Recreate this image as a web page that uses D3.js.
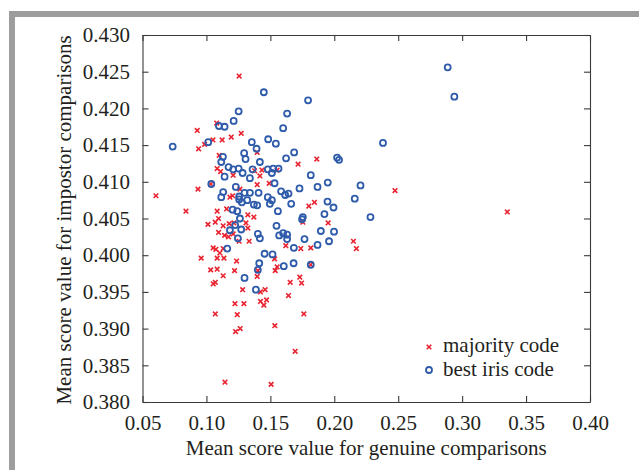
<!DOCTYPE html>
<html>
<head>
<meta charset="utf-8">
<script src="https://cdn.jsdelivr.net/npm/d3@7"></script>
<style>
  body { margin: 0; background: #fff; }
  svg text { font-family: "Liberation Serif", "Times New Roman", serif; fill: #231f20; }
</style>
</head>
<body>
<div id="chart"></div>
<script>
// tick values
var xTicks = [0.05, 0.10, 0.15, 0.20, 0.25, 0.30, 0.35, 0.40];
var yTicks = [0.380, 0.385, 0.390, 0.395, 0.400, 0.405, 0.410, 0.415, 0.420, 0.425, 0.430];

var legendLabels = ["majority code", "best iris code"];

// [mean genuine score, mean impostor score]
var majorityCode = [
  [0.1256,0.4244],[0.1080,0.4180],[0.0928,0.4170],[0.1272,0.4166],[0.1194,0.4161],
  [0.1123,0.4157],[0.1051,0.4157],[0.0986,0.4151],[0.0939,0.4145],[0.1397,0.4140],
  [0.1100,0.4136],[0.1084,0.4118],[0.1111,0.4114],[0.1377,0.4115],[0.1434,0.4116],
  [0.1553,0.4116],[0.1209,0.4109],[0.1418,0.4108],[0.0934,0.4090],[0.0840,0.4060],
  [0.1184,0.4079],[0.1205,0.4081],[0.1262,0.4090],[0.1397,0.4096],[0.1491,0.4098],
  [0.1158,0.4063],[0.1084,0.4060],[0.1095,0.4050],[0.1069,0.4045],[0.1012,0.4042],
  [0.1178,0.4043],[0.1215,0.4044],[0.1131,0.4040],[0.1309,0.4044],[0.1324,0.4055],
  [0.1371,0.4052],[0.1324,0.4037],[0.1621,0.4013],[0.1095,0.4031],[0.1142,0.4027],
  [0.1173,0.4025],[0.1209,0.4029],[0.1256,0.4019],[0.1334,0.4019],[0.1053,0.4010],
  [0.1074,0.4008],[0.1105,0.4003],[0.1131,0.4009],[0.0959,0.3996],[0.1084,0.3996],
  [0.1137,0.3996],[0.1236,0.3992],[0.1533,0.3995],[0.1553,0.3984],[0.1033,0.3980],
  [0.1084,0.3981],[0.1220,0.3979],[0.1402,0.3979],[0.1538,0.3979],[0.1131,0.3972],
  [0.1397,0.3971],[0.1053,0.3961],[0.1069,0.3963],[0.1283,0.3953],[0.1459,0.3953],
  [0.1423,0.3950],[0.1642,0.3945],[0.1223,0.3934],[0.1293,0.3934],[0.1423,0.3937],
  [0.1470,0.3939],[0.1449,0.3932],[0.1069,0.3920],[0.1241,0.3919],[0.1535,0.3904],
  [0.1264,0.3900],[0.1228,0.3896],[0.1145,0.3827],[0.1506,0.3824],[0.1863,0.4131],
  [0.1717,0.4124],[0.1801,0.4067],[0.1845,0.4072],[0.1754,0.4045],[0.1952,0.4044],
  [0.1738,0.4009],[0.1816,0.4010],[0.2150,0.4019],[0.2173,0.4009],[0.1816,0.3987],
  [0.1730,0.3970],[0.1655,0.3963],[0.1744,0.3962],[0.1762,0.3920],[0.1694,0.3869],
  [0.2475,0.4088],[0.3353,0.4059],[0.0605,0.4081],[0.1035,0.4097]
];

var bestIrisCode = [
  [0.1449,0.4222],[0.1252,0.4196],[0.1213,0.4183],[0.1631,0.4193],[0.1098,0.4176],
  [0.1142,0.4175],[0.1600,0.4173],[0.1014,0.4154],[0.1355,0.4154],[0.1483,0.4158],
  [0.1543,0.4152],[0.1392,0.4145],[0.1295,0.4139],[0.1129,0.4134],[0.1306,0.4131],
  [0.1623,0.4132],[0.1116,0.4127],[0.1418,0.4127],[0.1173,0.4120],[0.1209,0.4117],
  [0.1252,0.4118],[0.1283,0.4112],[0.1361,0.4117],[0.1480,0.4117],[0.1522,0.4118],
  [0.1564,0.4118],[0.1142,0.4107],[0.1340,0.4105],[0.1512,0.4112],[0.1038,0.4097],
  [0.1131,0.4086],[0.1116,0.4079],[0.1230,0.4093],[0.1256,0.4080],[0.1298,0.4085],
  [0.1340,0.4085],[0.1319,0.4075],[0.1277,0.4072],[0.1256,0.4076],[0.1408,0.4085],
  [0.1533,0.4098],[0.1480,0.4079],[0.1496,0.4070],[0.1512,0.4075],[0.1584,0.4087],
  [0.1616,0.4082],[0.1642,0.4084],[0.1371,0.4069],[0.1397,0.4068],[0.1205,0.4062],
  [0.1241,0.4060],[0.1262,0.4050],[0.1559,0.4060],[0.1548,0.4040],[0.1225,0.4041],
  [0.1272,0.4035],[0.1184,0.4034],[0.1402,0.4029],[0.1418,0.4023],[0.1246,0.4023],
  [0.1569,0.4027],[0.1600,0.4030],[0.1631,0.4028],[0.1631,0.4022],[0.1163,0.4009],
  [0.1455,0.4002],[0.1517,0.4001],[0.1413,0.3989],[0.1605,0.3985],[0.1402,0.3980],
  [0.1298,0.3969],[0.1387,0.3953],[0.0736,0.4148],[0.1795,0.4211],[0.2381,0.4153],
  [0.1686,0.4140],[0.2022,0.4133],[0.2037,0.4130],[0.1816,0.4109],[0.1949,0.4099],
  [0.1869,0.4093],[0.1728,0.4091],[0.2205,0.4095],[0.2160,0.4077],[0.1663,0.4070],
  [0.1947,0.4073],[0.1994,0.4065],[0.1923,0.4056],[0.2283,0.4052],[0.1754,0.4052],
  [0.1748,0.4049],[0.1895,0.4033],[0.1998,0.4032],[0.1959,0.4019],[0.1767,0.4022],
  [0.1869,0.4014],[0.1684,0.4010],[0.1682,0.3989],[0.1816,0.3987],[0.2887,0.4256],
  [0.2939,0.4216]
];

var W = 639, H = 470;
var margin = {top: 35, right: 49, bottom: 68, left: 142.5},
    width = W - margin.left - margin.right,
    height = H - margin.top - margin.bottom;

var red = "#ea2330", blue = "#2f5bab";

var root = d3.select("#chart")
  .append("svg")
    .attr("width", W)
    .attr("height", H);

// grey frame (top and left edges)
root.append("rect").attr("x", 9).attr("y", 11).attr("width", W - 9).attr("height", 6).attr("fill", "#9d9d9d");
root.append("rect").attr("x", 9).attr("y", 11).attr("width", 6).attr("height", H - 11).attr("fill", "#9d9d9d");

var svg = root.append("g")
  .attr("transform", "translate(" + margin.left + "," + margin.top + ")");

var x = d3.scaleLinear().domain([0.05, 0.40]).range([0, width]);
var y = d3.scaleLinear().domain([0.380, 0.430]).range([height, 0]);

// axes, ticks pointing inwards on all four sides
svg.append("g")
  .attr("class", "axis")
  .attr("transform", "translate(0," + height + ")")
  .call(d3.axisBottom(x).tickValues(xTicks).tickSizeInner(-6).tickSizeOuter(0).tickPadding(13)
    .tickFormat(d3.format(".2f")));

svg.append("g")
  .attr("class", "axis")
  .call(d3.axisTop(x).tickValues(xTicks).tickSizeInner(-6).tickSizeOuter(0).tickFormat(""));

svg.append("g")
  .attr("class", "axis")
  .call(d3.axisLeft(y).tickValues(yTicks).tickSizeInner(-6).tickSizeOuter(0).tickPadding(12.5)
    .tickFormat(d3.format(".3f")));

svg.append("g")
  .attr("class", "axis")
  .attr("transform", "translate(" + width + ",0)")
  .call(d3.axisRight(y).tickValues(yTicks).tickSizeInner(-6).tickSizeOuter(0).tickFormat(""));

svg.selectAll(".axis path").attr("stroke", "#3a3a3a").attr("stroke-width", 1.1);
svg.selectAll(".axis line").attr("stroke", "#3a3a3a").attr("stroke-width", 1.1);
svg.selectAll(".axis text")
  .style("font-family", "'Liberation Serif', serif")
  .style("font-size", "21px")
  .attr("fill", "#231f20");

// axis titles
svg.append("text")
  .attr("x", (x(0.05) + x(0.40)) / 2)
  .attr("y", 455 - margin.top)
  .attr("text-anchor", "middle")
  .style("font-size", "21px")
  .text("Mean score value for genuine comparisons");

svg.append("text")
  .attr("transform", "rotate(-90)")
  .attr("x", -(220 - margin.top))
  .attr("y", 71 - margin.left)
  .attr("text-anchor", "middle")
  .style("font-size", "21px")
  .text("Mean score value for impostor comparisons");

function cross(g, cx, cy, s) {
  g.append("path")
    .attr("d", "M" + (cx - s) + "," + (cy - s) + "L" + (cx + s) + "," + (cy + s) +
               "M" + (cx - s) + "," + (cy + s) + "L" + (cx + s) + "," + (cy - s))
    .attr("stroke", red)
    .attr("stroke-width", 1.6)
    .attr("fill", "none");
}

// majority code: red crosses
var reds = svg.append("g");
majorityCode.forEach(function(d) { cross(reds, x(d[0]), y(d[1]), 2.3); });

// best iris code: blue circles
svg.append("g")
  .selectAll("circle")
  .data(bestIrisCode)
  .enter()
  .append("circle")
    .attr("cx", function(d) { return x(d[0]); })
    .attr("cy", function(d) { return y(d[1]); })
    .attr("r", 3)
    .attr("fill", "none")
    .attr("stroke", blue)
    .attr("stroke-width", 1.8);

// legend
var leg = root.append("g");
cross(leg, 429, 347, 2.3);
leg.append("circle").attr("cx", 429).attr("cy", 370).attr("r", 3)
  .attr("fill", "none").attr("stroke", blue).attr("stroke-width", 1.8);
leg.selectAll("text.lab")
  .data(legendLabels)
  .enter()
  .append("text")
    .attr("class", "lab")
    .attr("x", 443)
    .attr("y", function(d, i) { return 352 + i * 23.5; })
    .style("font-size", "21px")
    .text(function(d) { return d; });
</script>
</body>
</html>
